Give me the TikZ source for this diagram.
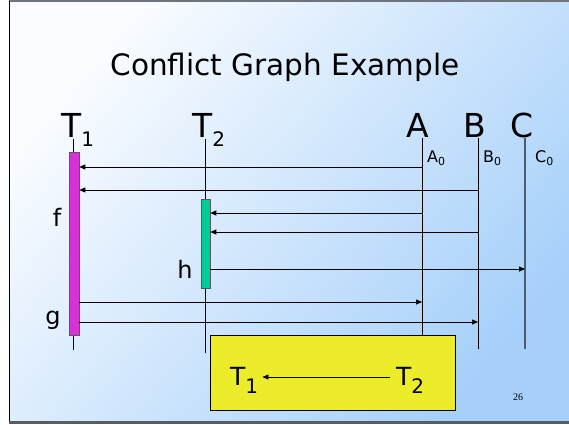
\documentclass[tikz,border=0pt]{standalone}
\usepackage{fontspec}
\setmainfont{DejaVu Sans}
\newfontfamily\pgnumfont{Liberation Serif}
\usetikzlibrary{arrows.meta,calc}
\definecolor{bgA}{RGB}{250,252,255}
\definecolor{bgB}{RGB}{166,208,250}
\definecolor{magbox}{RGB}{214,51,214}
\definecolor{grnbox}{RGB}{0,204,153}
\definecolor{ylwbox}{RGB}{236,236,42}
\definecolor{frameg}{RGB}{110,116,124}
\definecolor{cline}{RGB}{80,92,108}
\newcommand{\lsub}[3]{\raisebox{-#3pt}{\fontsize{#2}{#2}\selectfont #1}}
\begin{document}
\begin{tikzpicture}[x=1pt,y=-1pt,
  biglbl/.style={inner sep=0pt, font=\fontsize{33}{36}\selectfont},
  smlbl/.style={inner sep=0pt, anchor=base west, font=\fontsize{16}{17}\selectfont},
  midlbl/.style={inner sep=0pt, anchor=base, font=\fontsize{24}{26}\selectfont},
  life/.style={draw=black, line width=0.8pt},
  actbox/.style={draw=black!65, line width=0.6pt, inner sep=0pt, anchor=north},
  msg/.style={draw=black, line width=0.7pt, -{Triangle[length=6pt,width=5pt]}},
  reslbl/.style={inner sep=0pt, anchor=base west, font=\fontsize{25}{28}\selectfont}]
\useasboundingbox (0,0) rectangle (569,424);
\fill[white] (0,0) rectangle (569,424);
\shade[top color=bgA, bottom color=bgB, shading angle=50] (9,2) rectangle (569,422);
\draw[frameg, line width=2pt] (9,1) -- (569,1);
\draw[black, line width=1pt] (9.5,1) -- (9.5,422);
\draw[frameg!80!black, line width=2.5pt] (9,422.7) -- (569,422.7);

% title
\node[inner sep=0pt, anchor=base, font=\fontsize{29.5}{32}\selectfont] (title) at (285,75) {Conflict Graph Example};

% lifeline heads
\node[biglbl, anchor=base west] (T1) at (61,137) {T\lsub{1}{20}{9}};
\node[biglbl, anchor=base west] (T2) at (192,137) {T\lsub{2}{20}{9}};
\node[biglbl, anchor=base] (A) at (418,137) {A};
\node[biglbl, anchor=base] (B) at (475,137) {B};
\node[biglbl, anchor=base] (C) at (522,137) {C};

% lifelines
\coordinate (t1top) at (73.5,139); \coordinate (t1bot) at (73.5,350);
\coordinate (t2top) at (205.5,139); \coordinate (t2bot) at (205.5,353);
\coordinate (atop) at (422,138); \coordinate (abot) at (422,336);
\coordinate (btop) at (478,138); \coordinate (bbot) at (478,349);
\coordinate (ctop) at (525,138); \coordinate (cbot) at (525,349);
\draw[life] (t1top) -- (t1bot);
\draw[life] (t2top) -- (t2bot);
\draw[life] (atop) -- (abot);
\draw[life] (btop) -- (bbot);
\draw[draw=cline, line width=1.3pt] (ctop) -- (cbot);

% initial values
\node[smlbl] (a0) at (427,162) {A\lsub{0}{11}{3}};
\node[smlbl] (b0) at (483,162) {B\lsub{0}{11}{3}};
\node[smlbl] (c0) at (535,162) {C\lsub{0}{11}{3}};

% activation boxes
\node[actbox, fill=magbox, minimum width=10pt, minimum height=183pt] (f1) at (74,152) {};
\node[actbox, fill=grnbox, minimum width=9pt, minimum height=89pt] (h2) at (205.5,199) {};

% operation labels
\node[midlbl] (flbl) at (57,226) {f};
\node[midlbl] (hlbl) at (185,278) {h};
\node[midlbl] (glbl) at (53,324) {g};

% messages
\coordinate (m1) at (422,167);
\coordinate (m2) at (478,190);
\coordinate (m3) at (422,213);
\coordinate (m4) at (478,232);
\coordinate (m5) at (525,269);
\coordinate (m6) at (422,302);
\coordinate (m7) at (478,322);
\draw[msg] (m1) -- (m1 -| f1.east);
\draw[msg] (m2) -- (m2 -| f1.east);
\draw[msg] (m3) -- (m3 -| h2.east);
\draw[msg] (m4) -- (m4 -| h2.east);
\draw[msg] (m5 -| h2.east) -- (m5);
\draw[msg] (m6 -| f1.east) -- (m6);
\draw[msg] (m7 -| f1.east) -- (m7);

% result box
\node[draw=black, fill=ylwbox, line width=0.8pt, anchor=north west, minimum width=245pt, minimum height=75pt, inner sep=0pt] (res) at (210,335) {};
\node[reslbl] (g1) at (230,385) {T\lsub{1}{20}{8}};
\node[reslbl] (g2) at (396,385) {T\lsub{2}{20}{8}};
\draw[msg] ($(g2.base west)+(-6,-8)$) -- ($(g1.base east)+(4,-8)$);

% page number
\node[inner sep=0pt, anchor=base, font=\pgnumfont\fontsize{10}{12}\selectfont] (pg) at (518,400) {26};
\end{tikzpicture}
\end{document}
